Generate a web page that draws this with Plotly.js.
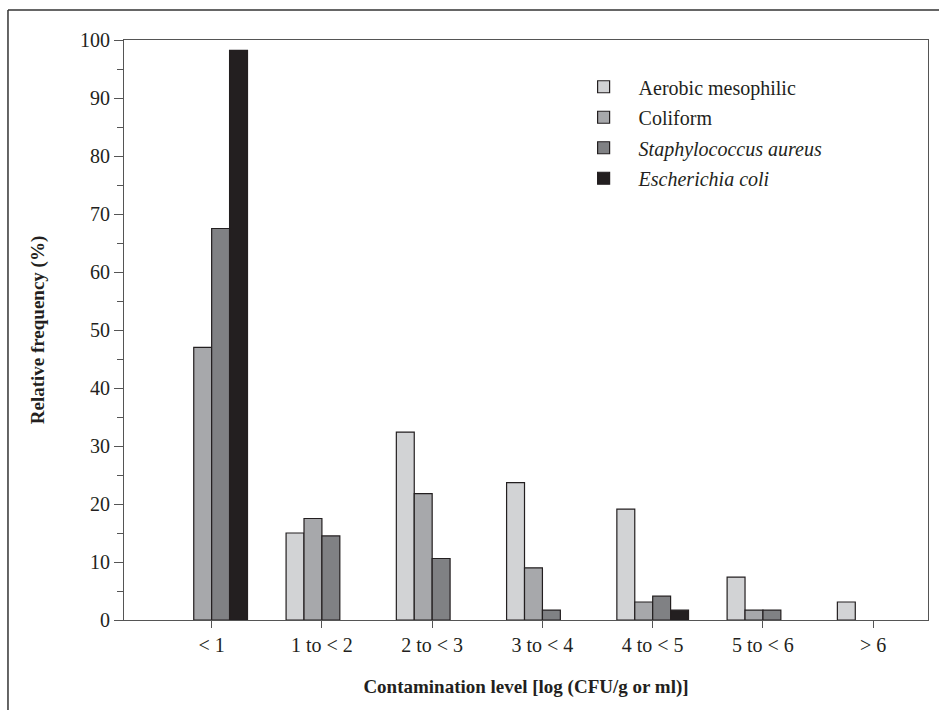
<!DOCTYPE html>
<html>
<head>
<meta charset="utf-8">
<script src="https://cdn.plot.ly/plotly-3.0.1.min.js"></script>
<style>html,body{margin:0;padding:0;background:#fff;}#chart{width:939px;height:710px;}</style>
</head>
<body>
<div id="chart"></div>
<script>
const categories = ["< 1", "1 to < 2", "2 to < 3", "3 to < 4", "4 to < 5", "5 to < 6", "> 6"];
const seriesNames = ["Aerobic mesophilic", "Coliform", "<i>Staphylococcus aureus</i>", "<i>Escherichia coli</i>"];
const aerobic = [null, 15.0, 32.4, 23.7, 19.1, 7.4, 3.1];
const coliform = [47.0, 17.5, 21.8, 9.0, 3.1, 1.7, null];
const staph = [67.5, 14.5, 10.6, 1.7, 4.1, 1.7, null];
const ecoli = [98.2, null, null, null, 1.7, null, null];
const colors = ["#d2d3d5", "#a7a8ab", "#808184", "#231f20"];
const values = [aerobic, coliform, staph, ecoli];

const traces = values.map((v, i) => ({
  type: "bar",
  name: seriesNames[i],
  legendgroup: "g" + i,
  x: categories,
  y: v,
  marker: {color: colors[i], line: {color: "#231f20", width: 1.2}},
  hoverinfo: "skip"
}));

const txt = "#231f20";
const serif = "'Liberation Serif', 'DejaVu Serif', serif";
const layout = {
  width: 939, height: 710,
  margin: {l: 124, r: 11, t: 40, b: 90},
  paper_bgcolor: "#fff", plot_bgcolor: "#fff",
  barmode: "group", bargap: 0.35, bargroupgap: 0,
  font: {family: serif, color: txt, size: 20},
  showlegend: true,
  legend: {x: 0.553, y: 0.953, xanchor: "left", yanchor: "top", bgcolor: "rgba(0,0,0,0)",
    font: {size: 20, family: serif, color: txt}, tracegroupgap: 1.5, itemwidth: 60},
  xaxis: {
    type: "category", range: [-0.795, 6.497],
    showline: true, linecolor: "#555", linewidth: 1, mirror: true,
    ticks: "outside", ticklen: 7, tickcolor: "#555", tickwidth: 1,
    showgrid: false, zeroline: false,
    tickfont: {size: 20, family: serif},
    title: {text: "<b>Contamination level [log (CFU/g or ml)]</b>", font: {size: 19, family: serif}, standoff: 24}
  },
  yaxis: {
    range: [0, 100], tickvals: [0,10,20,30,40,50,60,70,80,90,100],
    showline: true, linecolor: "#555", linewidth: 1, mirror: true,
    ticks: "outside", ticklen: 9, tickcolor: "#555", tickwidth: 1,
    minor: {dtick: 5, ticks: "outside", ticklen: 6, tickcolor: "#555", tickwidth: 1, showgrid: false},
    showgrid: false, zeroline: false,
    tickfont: {size: 20, family: serif},
    title: {text: "<b>Relative frequency (%)</b>", font: {size: 19, family: serif}, standoff: 30}
  },
  shapes: [
    {type: "line", xref: "paper", yref: "paper", x0: -0.1443, x1: 1.03, y0: 1.0517, y1: 1.0517, line: {color: "#333", width: 1.5}},
    {type: "line", xref: "paper", yref: "paper", x0: -0.1443, x1: -0.1443, y0: -0.2, y1: 1.0517, line: {color: "#333", width: 1.5}}
  ]
};

Plotly.newPlot("chart", traces, layout, {displayModeBar: false, staticPlot: true});
</script>
</body>
</html>
